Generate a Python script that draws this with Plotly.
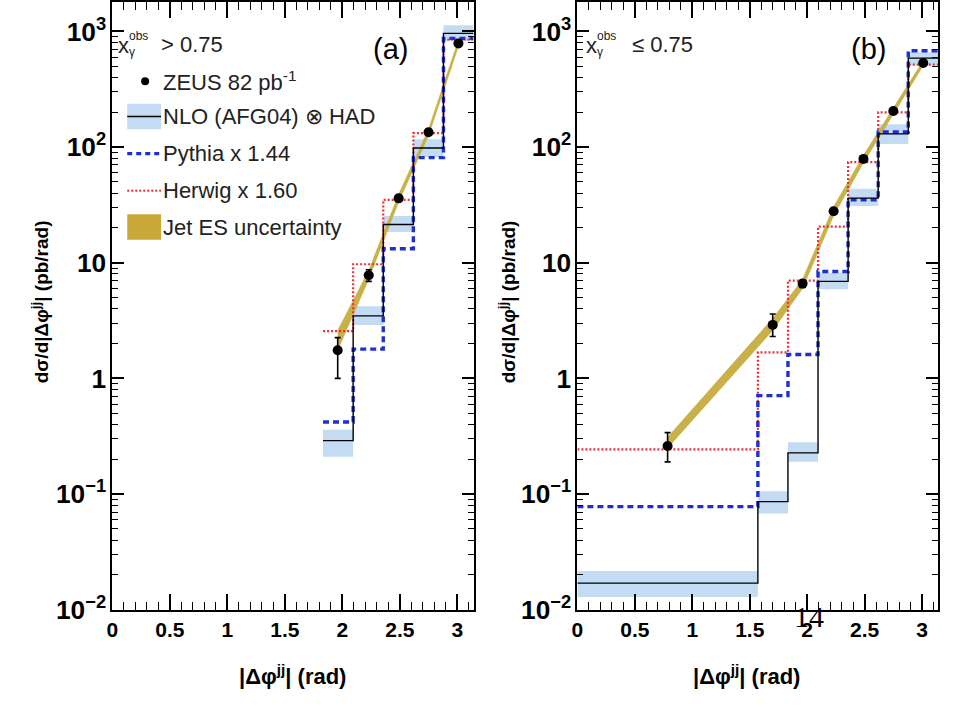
import plotly.graph_objects as go
from plotly.subplots import make_subplots

# ---------------- data ----------------
# bin edges in |dphi_jj| (rad): 0, pi/2, 7pi/12, 2pi/3, 3pi/4, 5pi/6, 11pi/12, pi
bin_edges = [0.0, 1.5708, 1.8326, 2.0944, 2.3562, 2.6180, 2.8798, 3.1416]

# panel (a): x_gamma^obs > 0.75  (first two bins empty)
a_x = [1.96, 2.23, 2.49, 2.75, 3.01]
a_data = [1.75, 7.8, 36.0, 134.0, 787.0]
a_err_up = [0.5, 0.9, 2.0, 6.0, 30.0]
a_err_dn = [0.75, 0.9, 2.0, 6.0, 30.0]
a_nlo = [0.29, 3.47, 21.4, 98.0, 960.0]
a_nlo_hi = [0.36, 4.2, 25.4, 117.0, 1130.0]
a_nlo_lo = [0.21, 2.9, 18.4, 82.0, 820.0]
a_pythia = [0.42, 1.79, 13.2, 81.0, 870.0]
a_herwig = [2.56, 9.7, 35.0, 132.0, 850.0]
a_es_hi = [2.6, 8.6, 39.0, 143.0, 840.0]
a_es_lo = [1.75, 7.2, 33.5, 125.0, 740.0]

# panel (b): x_gamma^obs <= 0.75
b_x = [0.785, 1.70, 1.96, 2.23, 2.49, 2.75, 3.01]
b_data = [0.26, 2.9, 6.6, 27.9, 79.0, 205.0, 533.0]
b_err_up = [0.08, 0.7, 0.5, 1.5, 3.5, 8.0, 20.0]
b_err_dn = [0.07, 0.6, 0.5, 1.5, 3.5, 8.0, 20.0]
b_nlo = [0.017, 0.086, 0.227, 6.9, 36.2, 130.0, 587.0]
b_nlo_hi = [0.0216, 0.106, 0.28, 8.2, 43.6, 157.0, 660.0]
b_nlo_lo = [0.0129, 0.068, 0.19, 5.9, 30.9, 106.0, 510.0]
b_pythia = [0.078, 0.71, 1.61, 8.4, 35.0, 135.0, 680.0]
b_herwig = [0.244, 1.68, 7.0, 20.5, 74.0, 199.0, 515.0]
b_es_hi = [0.31, 3.3, 7.2, 30.5, 85.0, 218.0, 560.0]
b_es_lo = [0.25, 2.6, 6.0, 25.5, 73.0, 192.0, 505.0]

legend_labels = ["ZEUS 82 pb<sup>-1</sup>", "NLO (AFG04) \u2297 HAD",
                 "Pythia x 1.44", "Herwig x 1.60", "Jet ES uncertainty"]

# ---------------- styles ----------------
W, H = 961, 707
FONT = "Liberation Sans, Arial, Helvetica, sans-serif"
BAND_BLUE = "#c4dbf4"
KHAKI = "#c9b048"
PYTHIA_BLUE = "#1f2fd0"
HERWIG_RED = "#e8333a"


def px_x(p):
    return p / W


def px_y(p):
    return 1 - p / H


def band_polygon(edges, hi, lo):
    xs, ys = [], []
    for i, v in enumerate(hi):
        xs += [edges[i], edges[i + 1]]
        ys += [v, v]
    for i in range(len(lo) - 1, -1, -1):
        xs += [edges[i + 1], edges[i]]
        ys += [lo[i], lo[i]]
    return xs, ys


fig = make_subplots(rows=1, cols=2)


def add_panel(col, edges, px, data, eu, ed, nlo, nhi, nlo_lo, pyt, her, es_hi, es_lo):
    bx, by = band_polygon(edges, nhi, nlo_lo)
    fig.add_trace(go.Scatter(x=bx, y=by, fill="toself", fillcolor=BAND_BLUE,
                             line=dict(width=0), mode="lines", hoverinfo="skip"),
                  row=1, col=col)
    fig.add_trace(go.Scatter(x=px + px[::-1], y=es_hi + es_lo[::-1], fill="toself",
                             fillcolor=KHAKI, line=dict(width=0.5, color=KHAKI),
                             mode="lines"), row=1, col=col)
    fig.add_trace(go.Scatter(x=edges, y=her + [her[-1]], mode="lines", line_shape="hv",
                             line=dict(color=HERWIG_RED, width=2.2, dash="2px,2px")),
                  row=1, col=col)
    fig.add_trace(go.Scatter(x=edges, y=pyt + [pyt[-1]], mode="lines", line_shape="hv",
                             line=dict(color=PYTHIA_BLUE, width=3.4, dash="6px,4px")),
                  row=1, col=col)
    fig.add_trace(go.Scatter(x=edges, y=nlo + [nlo[-1]], mode="lines", line_shape="hv",
                             line=dict(color="black", width=1.4)), row=1, col=col)
    fig.add_trace(go.Scatter(x=px, y=data, mode="markers",
                             marker=dict(color="black", size=10, symbol="circle"),
                             error_y=dict(type="data", symmetric=False, array=eu,
                                          arrayminus=ed, color="black", thickness=1.6, width=3)),
                  row=1, col=col)


add_panel(1, bin_edges[2:], a_x, a_data, a_err_up, a_err_dn,
          a_nlo, a_nlo_hi, a_nlo_lo, a_pythia, a_herwig, a_es_hi, a_es_lo)
add_panel(2, bin_edges, b_x, b_data, b_err_up, b_err_dn,
          b_nlo, b_nlo_hi, b_nlo_lo, b_pythia, b_herwig, b_es_hi, b_es_lo)

tick_font = dict(family=FONT, size=21, color="black", weight="bold")
fig.update_xaxes(range=[0, 3.1416], tick0=0, dtick=0.5, ticks="inside", ticklen=16,
                 tickwidth=2, tickcolor="black", showline=True, linewidth=2,
                 linecolor="black", mirror="ticks", showgrid=False, zeroline=False,
                 tickfont=tick_font,
                 minor=dict(ticks="inside", ticklen=8, tickwidth=1, tickcolor="black",
                            dtick=0.1, showgrid=False))
fig.update_yaxes(type="log", range=[-2, 3.254], dtick=1, exponentformat="power",
                 ticks="inside", ticklen=12, tickwidth=2, tickcolor="black",
                 showline=True, linewidth=2, linecolor="black", mirror="ticks",
                 showgrid=False, zeroline=False, tickfont=tick_font,
                 minor=dict(ticks="inside", ticklen=6, tickwidth=1, tickcolor="black",
                            dtick="D1", showgrid=False))

ydom = [px_y(623), px_y(2)]
fig.update_layout(
    width=W, height=H, margin=dict(l=0, r=0, t=0, b=0),
    paper_bgcolor="white", plot_bgcolor="white", showlegend=False,
    xaxis=dict(domain=[px_x(107), px_x(470.5)]),
    yaxis=dict(domain=ydom),
    xaxis2=dict(domain=[px_x(575), px_x(938.2)]),
    yaxis2=dict(domain=ydom),
)

ann = []


def text(x, y, s, size, bold=False, anchor="center", angle=0, family=FONT, color="black"):
    ann.append(dict(x=px_x(x), y=px_y(y), xref="paper", yref="paper", text=s,
                    showarrow=False, xanchor=anchor, yanchor="middle", textangle=angle,
                    font=dict(family=family, size=size, color=color,
                              weight="bold" if bold else "normal")))


ytitle = "d\u03c3/d|\u0394\u03c6<sup>jj</sup>| (pb/rad)"
xtitle = "|\u0394\u03c6<sup>jj</sup>| (rad)"
text(35, 308, ytitle, 19, bold=True, angle=-90)
text(505, 308, ytitle, 19, bold=True, angle=-90)
text(288, 690, xtitle, 22, bold=True)
text(745, 690, xtitle, 22, bold=True)

text(387, 50, "(a)", 29)
text(868, 50, "(b)", 29)

for x0, x1, cut in [(111, 220, "> 0.75"), (582, 693, "\u2264 0.75")]:
    text(x0, 46, "x", 22, anchor="left", color="#222")
    text(x0 + 11, 37, "obs", 12, anchor="left", color="#222")
    text(x0 + 11, 53, "\u03b3", 12, anchor="left", color="#222")
    text(x1, 45, cut, 22, anchor="right", color="#222")

leg_y = [83, 119, 157, 195, 232]
for yy, lab in zip(leg_y, legend_labels):
    text(156, yy, lab, 22, anchor="left", color="#222")

text(808, 630, "14", 30, family="Liberation Serif, DejaVu Serif, serif")

shapes = [
    dict(type="circle", xref="paper", yref="paper", x0=px_x(136), x1=px_x(144),
         y0=px_y(87), y1=px_y(79), fillcolor="black", line=dict(width=0)),
    dict(type="rect", xref="paper", yref="paper", x0=px_x(122), x1=px_x(156),
         y0=px_y(132), y1=px_y(106), fillcolor=BAND_BLUE, line=dict(width=0)),
    dict(type="line", xref="paper", yref="paper", x0=px_x(122), x1=px_x(156),
         y0=px_y(119), y1=px_y(119), line=dict(color="black", width=1.4)),
    dict(type="line", xref="paper", yref="paper", x0=px_x(122), x1=px_x(156),
         y0=px_y(157), y1=px_y(157), line=dict(color=PYTHIA_BLUE, width=3.2, dash="5px,4px")),
    dict(type="line", xref="paper", yref="paper", x0=px_x(122), x1=px_x(156),
         y0=px_y(195), y1=px_y(195), line=dict(color=HERWIG_RED, width=2, dash="2px,2px")),
    dict(type="rect", xref="paper", yref="paper", x0=px_x(122), x1=px_x(156),
         y0=px_y(245), y1=px_y(219), fillcolor="#c8a838", line=dict(width=0)),
]

fig.update_layout(annotations=ann, shapes=shapes)
fig.write_html("out.html")
